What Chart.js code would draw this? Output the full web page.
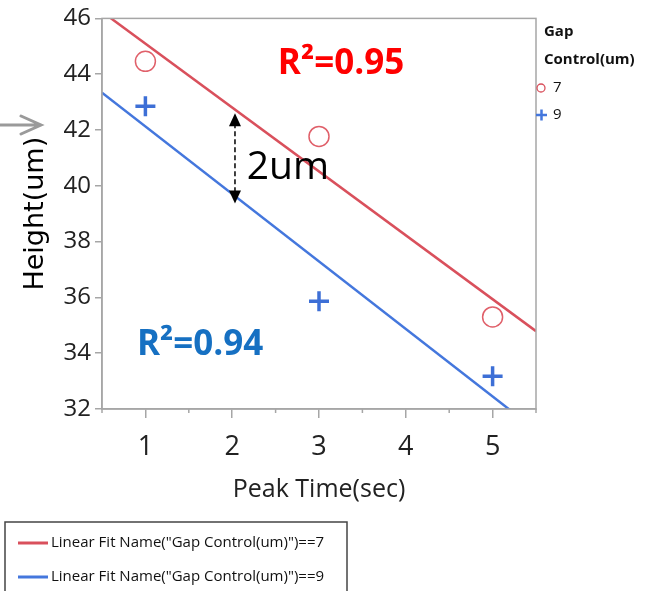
<!DOCTYPE html>
<html>
<head>
<meta charset="utf-8">
<script src="https://cdn.jsdelivr.net/npm/chart.js@4"></script>
<style>
  html, body { margin: 0; padding: 0; background: #fff; }
  #wrap { position: relative; width: 648px; height: 591px; }
</style>
</head>
<body>
<div id="wrap"><canvas id="fitChart" width="648" height="591"></canvas></div>
<script>
// ── Data ─────────────────────────────────────────────────────────────────────
const peakTimes   = [1, 3, 5];
const height7     = [44.46, 41.77, 35.30];   // Gap Control 7um (open circles)
const height9     = [42.85, 35.86, 33.17];   // Gap Control 9um (plus markers)

// linear fit end points, read at the edges of the plot
const fitX        = [0.5, 5.5];
const fit7        = [46.24, 34.79];
const fit9        = [43.34, 31.24];

const yTicks      = [32, 34, 36, 38, 40, 42, 44, 46];
const xTickLabels = ['1', '2', '3', '4', '5'];

const RED  = '#d9505c';
const BLUE = '#4477dd';
const AXIS = '#a6a6a6';

const toPts = (xs, ys) => xs.map((x, i) => ({ x, y: ys[i] }));

// ── Extra drawing: frame, minor ticks, annotations, legends ─────────────────
const decorPlugin = {
  id: 'decor',
  afterDraw(chart) {
    const { ctx, chartArea: a, scales: { x, y } } = chart;
    ctx.save();

    // plot frame
    ctx.strokeStyle = AXIS;
    ctx.lineWidth = 1.5;
    ctx.strokeRect(a.left, a.top, a.right - a.left, a.bottom - a.top);

    // minor x ticks (half steps)
    x.ticks.forEach(t => {
      if (Number.isInteger(t.value)) return;
      const px = x.getPixelForValue(t.value);
      ctx.beginPath();
      ctx.moveTo(px, a.bottom);
      ctx.lineTo(px, a.bottom + 4);
      ctx.stroke();
    });

    // R² labels
    ctx.textBaseline = 'alphabetic';
    ctx.textAlign = 'left';
    ctx.font = "bold 35px 'Open Sans'";
    ctx.fillStyle = '#ff0000';
    ctx.fillText('R²=0.95', x.getPixelForValue(2.526), y.getPixelForValue(44.0));
    ctx.fillStyle = '#1670c2';
    ctx.fillText('R²=0.94', x.getPixelForValue(0.902), y.getPixelForValue(33.93));

    // 2um gap arrow
    const ax = x.getPixelForValue(2.032);
    const aTop = y.getPixelForValue(42.6);
    const aBot = y.getPixelForValue(39.37);
    ctx.strokeStyle = '#000';
    ctx.fillStyle = '#000';
    ctx.lineWidth = 1.5;
    ctx.setLineDash([5, 3]);
    ctx.beginPath();
    ctx.moveTo(ax, aTop + 10);
    ctx.lineTo(ax, aBot - 10);
    ctx.stroke();
    ctx.setLineDash([]);
    ctx.beginPath();
    ctx.moveTo(ax, aTop); ctx.lineTo(ax - 6, aTop + 13); ctx.lineTo(ax + 6, aTop + 13);
    ctx.closePath(); ctx.fill();
    ctx.beginPath();
    ctx.moveTo(ax, aBot); ctx.lineTo(ax - 6, aBot - 13); ctx.lineTo(ax + 6, aBot - 13);
    ctx.closePath(); ctx.fill();
    ctx.font = "39px 'Open Sans'";
    ctx.fillText('2um', x.getPixelForValue(2.167), y.getPixelForValue(40.25));

    // grey pointer arrow at the left
    ctx.strokeStyle = '#9a9a9a';
    ctx.lineWidth = 3;
    ctx.lineCap = 'round';
    ctx.beginPath();
    ctx.moveTo(0, 125); ctx.lineTo(41, 125);
    ctx.moveTo(21, 116); ctx.lineTo(41, 125); ctx.lineTo(21, 134);
    ctx.stroke();
    ctx.lineCap = 'butt';

    // right legend: marker series
    ctx.fillStyle = '#111';
    ctx.textBaseline = 'middle';
    ctx.font = "bold 15px 'Open Sans'";
    ctx.fillText('Gap', 544, 32);
    ctx.fillText('Control(um)', 544, 60);
    ctx.font = "15px 'Open Sans'";
    ctx.fillText('7', 553, 88);
    ctx.fillText('9', 553, 115);
    ctx.strokeStyle = RED;
    ctx.lineWidth = 1.3;
    ctx.beginPath(); ctx.arc(541, 88, 4, 0, Math.PI * 2); ctx.stroke();
    ctx.strokeStyle = BLUE;
    ctx.lineWidth = 2.5;
    ctx.beginPath();
    ctx.moveTo(536, 115); ctx.lineTo(547, 115);
    ctx.moveTo(541.5, 109.5); ctx.lineTo(541.5, 120.5);
    ctx.stroke();

    // bottom legend: fit lines
    ctx.strokeStyle = '#444';
    ctx.lineWidth = 1.5;
    ctx.strokeRect(5, 522, 342, 90);
    const fitNames = ['Linear Fit Name("Gap Control(um)")==7', 'Linear Fit Name("Gap Control(um)")==9'];
    [RED, BLUE].forEach((c, i) => {
      const ly = 543 + i * 34;
      ctx.strokeStyle = c;
      ctx.lineWidth = 3;
      ctx.beginPath(); ctx.moveTo(18, ly); ctx.lineTo(48, ly); ctx.stroke();
      ctx.fillStyle = '#111';
      ctx.font = "15px 'Open Sans'";
      ctx.fillText(fitNames[i], 51, ly);
    });

    ctx.restore();
  },
};

new Chart(document.getElementById('fitChart'), {
  type: 'scatter',
  data: {
    datasets: [
      {
        label: 'Fit 7',
        type: 'line',
        data: toPts(fitX, fit7),
        borderColor: RED,
        borderWidth: 2.5,
        pointRadius: 0,
        fill: false,
      },
      {
        label: 'Fit 9',
        type: 'line',
        data: toPts(fitX, fit9),
        borderColor: BLUE,
        borderWidth: 2.5,
        pointRadius: 0,
        fill: false,
      },
      {
        label: '7',
        data: toPts(peakTimes, height7),
        pointStyle: 'circle',
        pointRadius: 10,
        pointBorderWidth: 1.5,
        pointBorderColor: '#e0606a',
        pointBackgroundColor: 'rgba(0,0,0,0)',
      },
      {
        label: '9',
        data: toPts(peakTimes, height9),
        pointStyle: 'cross',
        pointRadius: 10,
        pointBorderWidth: 3.5,
        pointBorderColor: '#3d6fd6',
      },
    ],
  },
  options: {
    responsive: false,
    animation: false,
    layout: { padding: { top: 11, right: 112, left: 0, bottom: 0 } },
    plugins: { legend: { display: false }, tooltip: { enabled: false } },
    scales: {
      x: {
        type: 'linear',
        min: 0.5,
        max: 5.5,
        afterFit: s => { s.height = 182; },
        grid: {
          drawOnChartArea: false,
          tickLength: 9,
          tickColor: c => (c.tick && Number.isInteger(c.tick.value)) ? AXIS : 'rgba(0,0,0,0)',
          lineWidth: 1.5,
        },
        border: { color: AXIS, width: 1.5 },
        ticks: {
          stepSize: 0.5,
          padding: 13,
          color: '#222',
          font: { family: 'Open Sans', size: 27 },
          callback: v => Number.isInteger(v) ? xTickLabels[v - 1] : '',
        },
        title: {
          display: true,
          text: 'Peak Time(sec)',
          color: '#222',
          font: { family: 'Open Sans', size: 25 },
          padding: { top: 0, bottom: 86 },
        },
      },
      y: {
        type: 'linear',
        min: yTicks[0],
        max: yTicks[yTicks.length - 1],
        afterFit: s => { s.width = 102; },
        afterBuildTicks: s => { s.ticks = yTicks.map(v => ({ value: v })); },
        grid: { drawOnChartArea: false, tickLength: 7, tickColor: AXIS, lineWidth: 1.5 },
        border: { color: AXIS, width: 1.5 },
        ticks: {
          padding: 4,
          color: '#222',
          font: { family: 'Open Sans', size: 24 },
        },
        title: {
          display: true,
          text: 'Height(um)',
          color: '#000',
          font: { family: 'DejaVu Sans', size: 27 },
          padding: { top: 20, bottom: 0 },
        },
      },
    },
  },
  plugins: [decorPlugin],
});
</script>
</body>
</html>
